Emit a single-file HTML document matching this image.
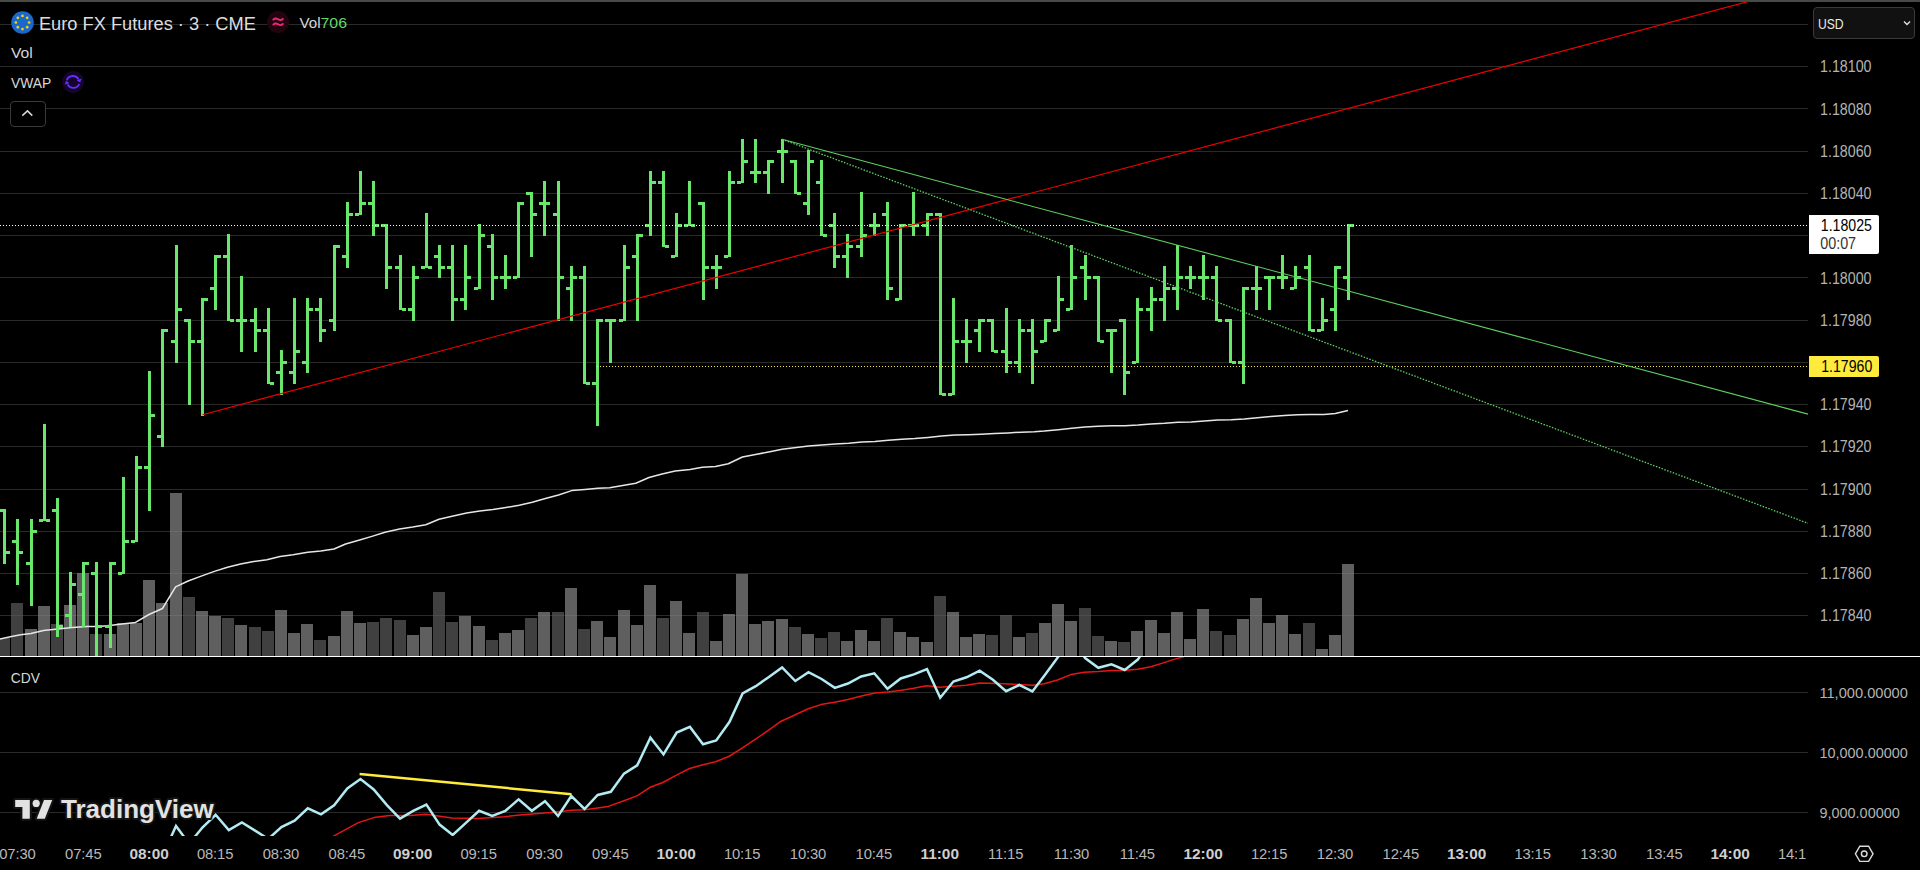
<!DOCTYPE html>
<html><head><meta charset="utf-8"><style>
html,body{margin:0;padding:0;background:#000;}
body{width:1920px;height:870px;overflow:hidden;position:relative;font-family:"Liberation Sans", sans-serif;}
svg{position:absolute;left:0;top:0;}
svg text{font-family:"Liberation Sans", sans-serif;}
.abs{position:absolute;white-space:nowrap;}
</style></head><body>
<svg width="1920" height="870" viewBox="0 0 1920 870">
<rect x="0" y="0" width="1920" height="2" fill="#484a48"/>
<rect x="0" y="24" width="1808" height="1" fill="#2a2a2a"/>
<rect x="0" y="66" width="1808" height="1" fill="#2a2a2a"/>
<rect x="0" y="108" width="1808" height="1" fill="#2a2a2a"/>
<rect x="0" y="151" width="1808" height="1" fill="#2a2a2a"/>
<rect x="0" y="193" width="1808" height="1" fill="#2a2a2a"/>
<rect x="0" y="235" width="1808" height="1" fill="#2a2a2a"/>
<rect x="0" y="277" width="1808" height="1" fill="#2a2a2a"/>
<rect x="0" y="320" width="1808" height="1" fill="#2a2a2a"/>
<rect x="0" y="362" width="1808" height="1" fill="#2a2a2a"/>
<rect x="0" y="404" width="1808" height="1" fill="#2a2a2a"/>
<rect x="0" y="446" width="1808" height="1" fill="#2a2a2a"/>
<rect x="0" y="489" width="1808" height="1" fill="#2a2a2a"/>
<rect x="0" y="531" width="1808" height="1" fill="#2a2a2a"/>
<rect x="0" y="573" width="1808" height="1" fill="#2a2a2a"/>
<rect x="0" y="615" width="1808" height="1" fill="#2a2a2a"/>
<rect x="-2" y="638" width="12" height="18" fill="rgba(95,95,95,0.67)"/>
<rect x="11" y="603" width="12" height="53" fill="rgba(95,95,95,0.67)"/>
<rect x="25" y="629" width="12" height="27" fill="rgba(135,135,135,0.70)"/>
<rect x="38" y="606" width="12" height="50" fill="rgba(135,135,135,0.70)"/>
<rect x="51" y="624" width="12" height="32" fill="rgba(95,95,95,0.67)"/>
<rect x="64" y="605" width="12" height="51" fill="rgba(135,135,135,0.70)"/>
<rect x="77" y="573" width="12" height="83" fill="rgba(135,135,135,0.70)"/>
<rect x="90" y="634" width="12" height="22" fill="rgba(95,95,95,0.67)"/>
<rect x="104" y="634" width="12" height="22" fill="rgba(135,135,135,0.70)"/>
<rect x="117" y="623" width="12" height="33" fill="rgba(135,135,135,0.70)"/>
<rect x="130" y="623" width="12" height="33" fill="rgba(135,135,135,0.70)"/>
<rect x="143" y="580" width="12" height="76" fill="rgba(135,135,135,0.70)"/>
<rect x="156" y="603" width="12" height="53" fill="rgba(135,135,135,0.70)"/>
<rect x="170" y="493" width="12" height="163" fill="rgba(135,135,135,0.70)"/>
<rect x="183" y="597" width="12" height="59" fill="rgba(95,95,95,0.67)"/>
<rect x="196" y="611" width="12" height="45" fill="rgba(135,135,135,0.70)"/>
<rect x="209" y="616" width="12" height="40" fill="rgba(135,135,135,0.70)"/>
<rect x="222" y="618" width="12" height="38" fill="rgba(95,95,95,0.67)"/>
<rect x="235" y="625" width="12" height="31" fill="rgba(135,135,135,0.70)"/>
<rect x="249" y="627" width="12" height="29" fill="rgba(95,95,95,0.67)"/>
<rect x="262" y="631" width="12" height="25" fill="rgba(95,95,95,0.67)"/>
<rect x="275" y="610" width="12" height="46" fill="rgba(135,135,135,0.70)"/>
<rect x="288" y="633" width="12" height="23" fill="rgba(135,135,135,0.70)"/>
<rect x="301" y="624" width="12" height="32" fill="rgba(135,135,135,0.70)"/>
<rect x="314" y="640" width="12" height="16" fill="rgba(95,95,95,0.67)"/>
<rect x="328" y="636" width="12" height="20" fill="rgba(135,135,135,0.70)"/>
<rect x="341" y="611" width="12" height="45" fill="rgba(135,135,135,0.70)"/>
<rect x="354" y="623" width="12" height="33" fill="rgba(135,135,135,0.70)"/>
<rect x="367" y="622" width="12" height="34" fill="rgba(95,95,95,0.67)"/>
<rect x="380" y="618" width="12" height="38" fill="rgba(95,95,95,0.67)"/>
<rect x="394" y="620" width="12" height="36" fill="rgba(95,95,95,0.67)"/>
<rect x="407" y="635" width="12" height="21" fill="rgba(135,135,135,0.70)"/>
<rect x="420" y="627" width="12" height="29" fill="rgba(135,135,135,0.70)"/>
<rect x="433" y="592" width="12" height="64" fill="rgba(95,95,95,0.67)"/>
<rect x="446" y="622" width="12" height="34" fill="rgba(95,95,95,0.67)"/>
<rect x="459" y="616" width="12" height="40" fill="rgba(135,135,135,0.70)"/>
<rect x="473" y="626" width="12" height="30" fill="rgba(135,135,135,0.70)"/>
<rect x="486" y="640" width="12" height="16" fill="rgba(95,95,95,0.67)"/>
<rect x="499" y="633" width="12" height="23" fill="rgba(135,135,135,0.70)"/>
<rect x="512" y="630" width="12" height="26" fill="rgba(135,135,135,0.70)"/>
<rect x="525" y="618" width="12" height="38" fill="rgba(95,95,95,0.67)"/>
<rect x="538" y="612" width="12" height="44" fill="rgba(135,135,135,0.70)"/>
<rect x="552" y="612" width="12" height="44" fill="rgba(95,95,95,0.67)"/>
<rect x="565" y="588" width="12" height="68" fill="rgba(135,135,135,0.70)"/>
<rect x="578" y="629" width="12" height="27" fill="rgba(95,95,95,0.67)"/>
<rect x="591" y="621" width="12" height="35" fill="rgba(135,135,135,0.70)"/>
<rect x="604" y="637" width="12" height="19" fill="rgba(135,135,135,0.70)"/>
<rect x="618" y="610" width="12" height="46" fill="rgba(135,135,135,0.70)"/>
<rect x="631" y="625" width="12" height="31" fill="rgba(135,135,135,0.70)"/>
<rect x="644" y="585" width="12" height="71" fill="rgba(135,135,135,0.70)"/>
<rect x="657" y="618" width="12" height="38" fill="rgba(95,95,95,0.67)"/>
<rect x="670" y="601" width="12" height="55" fill="rgba(135,135,135,0.70)"/>
<rect x="683" y="633" width="12" height="23" fill="rgba(135,135,135,0.70)"/>
<rect x="697" y="612" width="12" height="44" fill="rgba(95,95,95,0.67)"/>
<rect x="710" y="641" width="12" height="15" fill="rgba(135,135,135,0.70)"/>
<rect x="723" y="614" width="12" height="42" fill="rgba(135,135,135,0.70)"/>
<rect x="736" y="574" width="12" height="82" fill="rgba(135,135,135,0.70)"/>
<rect x="749" y="624" width="12" height="32" fill="rgba(135,135,135,0.70)"/>
<rect x="762" y="621" width="12" height="35" fill="rgba(135,135,135,0.70)"/>
<rect x="776" y="619" width="12" height="37" fill="rgba(135,135,135,0.70)"/>
<rect x="789" y="627" width="12" height="29" fill="rgba(95,95,95,0.67)"/>
<rect x="802" y="634" width="12" height="22" fill="rgba(135,135,135,0.70)"/>
<rect x="815" y="638" width="12" height="18" fill="rgba(95,95,95,0.67)"/>
<rect x="828" y="632" width="12" height="24" fill="rgba(95,95,95,0.67)"/>
<rect x="841" y="641" width="12" height="15" fill="rgba(135,135,135,0.70)"/>
<rect x="855" y="630" width="12" height="26" fill="rgba(135,135,135,0.70)"/>
<rect x="868" y="641" width="12" height="15" fill="rgba(135,135,135,0.70)"/>
<rect x="881" y="618" width="12" height="38" fill="rgba(95,95,95,0.67)"/>
<rect x="894" y="632" width="12" height="24" fill="rgba(135,135,135,0.70)"/>
<rect x="907" y="637" width="12" height="19" fill="rgba(135,135,135,0.70)"/>
<rect x="921" y="642" width="12" height="14" fill="rgba(135,135,135,0.70)"/>
<rect x="934" y="596" width="12" height="60" fill="rgba(95,95,95,0.67)"/>
<rect x="947" y="612" width="12" height="44" fill="rgba(135,135,135,0.70)"/>
<rect x="960" y="637" width="12" height="19" fill="rgba(135,135,135,0.70)"/>
<rect x="973" y="634" width="12" height="22" fill="rgba(135,135,135,0.70)"/>
<rect x="986" y="635" width="12" height="21" fill="rgba(95,95,95,0.67)"/>
<rect x="1000" y="615" width="12" height="41" fill="rgba(95,95,95,0.67)"/>
<rect x="1013" y="637" width="12" height="19" fill="rgba(135,135,135,0.70)"/>
<rect x="1026" y="633" width="12" height="23" fill="rgba(95,95,95,0.67)"/>
<rect x="1039" y="623" width="12" height="33" fill="rgba(135,135,135,0.70)"/>
<rect x="1052" y="604" width="12" height="52" fill="rgba(135,135,135,0.70)"/>
<rect x="1065" y="621" width="12" height="35" fill="rgba(135,135,135,0.70)"/>
<rect x="1079" y="608" width="12" height="48" fill="rgba(95,95,95,0.67)"/>
<rect x="1092" y="636" width="12" height="20" fill="rgba(95,95,95,0.67)"/>
<rect x="1105" y="641" width="12" height="15" fill="rgba(135,135,135,0.70)"/>
<rect x="1118" y="642" width="12" height="14" fill="rgba(95,95,95,0.67)"/>
<rect x="1131" y="631" width="12" height="25" fill="rgba(135,135,135,0.70)"/>
<rect x="1145" y="620" width="12" height="36" fill="rgba(135,135,135,0.70)"/>
<rect x="1158" y="633" width="12" height="23" fill="rgba(135,135,135,0.70)"/>
<rect x="1171" y="612" width="12" height="44" fill="rgba(135,135,135,0.70)"/>
<rect x="1184" y="639" width="12" height="17" fill="rgba(135,135,135,0.70)"/>
<rect x="1197" y="609" width="12" height="47" fill="rgba(135,135,135,0.70)"/>
<rect x="1210" y="631" width="12" height="25" fill="rgba(95,95,95,0.67)"/>
<rect x="1224" y="635" width="12" height="21" fill="rgba(95,95,95,0.67)"/>
<rect x="1237" y="619" width="12" height="37" fill="rgba(135,135,135,0.70)"/>
<rect x="1250" y="598" width="12" height="58" fill="rgba(135,135,135,0.70)"/>
<rect x="1263" y="623" width="12" height="33" fill="rgba(135,135,135,0.70)"/>
<rect x="1276" y="615" width="12" height="41" fill="rgba(135,135,135,0.70)"/>
<rect x="1289" y="634" width="12" height="22" fill="rgba(135,135,135,0.70)"/>
<rect x="1303" y="623" width="12" height="33" fill="rgba(95,95,95,0.67)"/>
<rect x="1316" y="649" width="12" height="7" fill="rgba(135,135,135,0.70)"/>
<rect x="1329" y="635" width="12" height="21" fill="rgba(135,135,135,0.70)"/>
<rect x="1342" y="564" width="12" height="92" fill="rgba(135,135,135,0.70)"/>
<polyline points="0.0,638.9 10.3,636.8 20.7,634.8 31.0,633.5 43.5,630.4 57.9,629.0 72.4,627.5 86.9,626.5 99.3,626.5 111.7,625.3 124.1,623.8 135.5,622.4 149.0,614.5 162.5,608.5 175.6,586.9 188.1,581.0 201.2,576.1 214.4,571.4 227.5,567.3 240.6,564.1 253.7,561.5 266.9,559.7 280.0,556.5 293.1,554.8 307.7,552.2 320.8,551.0 334.0,549.0 345.6,544.0 358.8,540.2 371.9,536.4 385.0,532.3 399.6,529.1 412.7,527.1 425.8,524.8 439.0,519.2 452.1,516.3 466.7,513.1 479.8,511.0 492.9,509.6 506.0,507.5 519.2,505.2 532.3,502.3 545.4,498.5 558.5,495.0 571.7,490.6 584.8,489.5 597.9,488.3 609.6,487.7 622.7,485.4 635.8,483.3 649.0,477.5 662.1,474.0 675.2,471.1 690.0,469.4 702.4,467.3 715.5,466.5 728.3,463.7 742.4,457.0 755.5,454.5 768.6,452.0 782.1,449.2 796.3,447.4 808.6,446.0 821.8,444.9 835.2,443.9 848.7,443.2 861.8,442.1 874.9,441.4 888.3,440.3 901.8,439.3 914.9,438.6 928.0,437.5 941.5,436.1 954.9,435.0 968.0,434.7 981.1,434.3 994.6,433.6 1008.0,432.9 1021.2,432.2 1034.3,431.8 1044.2,431.1 1058.3,429.7 1071.8,428.3 1084.9,426.9 1098.0,426.2 1111.5,425.8 1124.9,425.8 1138.0,425.1 1151.1,424.0 1164.6,423.3 1178.0,422.3 1191.2,421.9 1204.3,420.9 1217.7,420.1 1231.2,419.8 1244.3,419.1 1257.4,417.7 1270.8,416.6 1284.3,415.5 1297.4,414.8 1310.5,414.5 1324.0,414.5 1335.3,413.4 1348.0,410.6" fill="none" stroke="#e6e6e6" stroke-width="1.5" stroke-linejoin="round"/>
<path d="M3,509h3v55h-3zM-1,509h4v3h-4zM6,551h4v3h-4zM16,519h3v66h-3zM12,540h4v3h-4zM19,551h4v3h-4zM30,519h3v87h-3zM26,562h4v3h-4zM33,530h4v3h-4zM43,424h3v97h-3zM39,519h4v3h-4zM46,519h4v3h-4zM56,498h3v139h-3zM52,509h4v3h-4zM59,625h4v3h-4zM69,572h3v55h-3zM65,614h4v3h-4zM72,583h4v3h-4zM82,562h3v65h-3zM78,593h4v3h-4zM85,562h4v3h-4zM95,562h3v94h-3zM91,572h4v3h-4zM98,625h4v3h-4zM109,562h3v86h-3zM105,625h4v3h-4zM112,562h4v3h-4zM122,477h3v97h-3zM118,572h4v3h-4zM125,540h4v3h-4zM135,456h3v86h-3zM131,540h4v3h-4zM138,466h4v3h-4zM148,371h3v140h-3zM144,466h4v3h-4zM151,414h4v3h-4zM161,329h3v118h-3zM157,435h4v3h-4zM164,329h4v3h-4zM175,245h3v118h-3zM171,340h4v3h-4zM178,308h4v3h-4zM188,319h3v86h-3zM184,319h4v3h-4zM191,340h4v3h-4zM201,298h3v118h-3zM197,340h4v3h-4zM204,298h4v3h-4zM214,255h3v55h-3zM210,287h4v3h-4zM217,255h4v3h-4zM227,234h3v87h-3zM223,255h4v3h-4zM230,319h4v3h-4zM240,276h3v76h-3zM236,319h4v3h-4zM243,319h4v3h-4zM254,308h3v44h-3zM250,319h4v3h-4zM257,329h4v3h-4zM267,308h3v76h-3zM263,329h4v3h-4zM270,382h4v3h-4zM280,350h3v45h-3zM276,371h4v3h-4zM283,361h4v3h-4zM293,298h3v86h-3zM289,371h4v3h-4zM296,350h4v3h-4zM306,298h3v75h-3zM302,361h4v3h-4zM309,308h4v3h-4zM319,298h3v44h-3zM315,308h4v3h-4zM322,329h4v3h-4zM333,245h3v86h-3zM329,319h4v3h-4zM336,245h4v3h-4zM346,202h3v66h-3zM342,255h4v3h-4zM349,213h4v3h-4zM359,171h3v44h-3zM355,213h4v3h-4zM362,202h4v3h-4zM372,181h3v55h-3zM368,202h4v3h-4zM375,224h4v3h-4zM385,224h3v65h-3zM381,224h4v3h-4zM388,266h4v3h-4zM399,255h3v55h-3zM395,266h4v3h-4zM402,308h4v3h-4zM412,266h3v55h-3zM408,308h4v3h-4zM415,276h4v3h-4zM425,213h3v55h-3zM421,266h4v3h-4zM428,266h4v3h-4zM438,245h3v33h-3zM434,255h4v3h-4zM441,266h4v3h-4zM451,245h3v76h-3zM447,266h4v3h-4zM454,298h4v3h-4zM464,245h3v65h-3zM460,298h4v3h-4zM467,276h4v3h-4zM478,224h3v65h-3zM474,287h4v3h-4zM481,234h4v3h-4zM491,234h3v66h-3zM487,245h4v3h-4zM494,276h4v3h-4zM504,255h3v34h-3zM500,276h4v3h-4zM507,276h4v3h-4zM517,202h3v76h-3zM513,276h4v3h-4zM520,202h4v3h-4zM530,192h3v65h-3zM526,192h4v3h-4zM533,213h4v3h-4zM543,181h3v55h-3zM539,202h4v3h-4zM546,202h4v3h-4zM557,181h3v140h-3zM553,213h4v3h-4zM560,276h4v3h-4zM570,266h3v55h-3zM566,287h4v3h-4zM573,276h4v3h-4zM583,266h3v118h-3zM579,276h4v3h-4zM586,382h4v3h-4zM596,319h3v107h-3zM592,382h4v3h-4zM599,319h4v3h-4zM609,319h3v44h-3zM605,319h4v3h-4zM612,319h4v3h-4zM623,245h3v76h-3zM619,319h4v3h-4zM626,266h4v3h-4zM636,234h3v87h-3zM632,255h4v3h-4zM639,234h4v3h-4zM649,171h3v65h-3zM645,224h4v3h-4zM652,181h4v3h-4zM662,171h3v76h-3zM658,181h4v3h-4zM665,245h4v3h-4zM675,213h3v44h-3zM671,255h4v3h-4zM678,224h4v3h-4zM688,181h3v45h-3zM684,224h4v3h-4zM691,224h4v3h-4zM702,202h3v98h-3zM698,202h4v3h-4zM705,266h4v3h-4zM715,255h3v34h-3zM711,266h4v3h-4zM718,266h4v3h-4zM728,171h3v86h-3zM724,255h4v3h-4zM731,181h4v3h-4zM741,139h3v44h-3zM737,181h4v3h-4zM744,160h4v3h-4zM754,139h3v44h-3zM750,171h4v3h-4zM757,171h4v3h-4zM767,160h3v34h-3zM763,171h4v3h-4zM770,160h4v3h-4zM781,139h3v44h-3zM777,150h4v3h-4zM784,150h4v3h-4zM794,160h3v34h-3zM790,160h4v3h-4zM797,192h4v3h-4zM807,150h3v65h-3zM803,202h4v3h-4zM810,160h4v3h-4zM820,160h3v76h-3zM816,181h4v3h-4zM823,234h4v3h-4zM833,213h3v55h-3zM829,224h4v3h-4zM836,255h4v3h-4zM846,234h3v44h-3zM842,255h4v3h-4zM849,245h4v3h-4zM860,192h3v65h-3zM856,245h4v3h-4zM863,234h4v3h-4zM873,213h3v23h-3zM869,224h4v3h-4zM876,224h4v3h-4zM886,202h3v98h-3zM882,213h4v3h-4zM889,287h4v3h-4zM899,224h3v76h-3zM895,298h4v3h-4zM902,224h4v3h-4zM912,192h3v44h-3zM908,224h4v3h-4zM915,224h4v3h-4zM926,213h3v23h-3zM922,224h4v3h-4zM929,213h4v3h-4zM939,213h3v182h-3zM935,213h4v3h-4zM942,393h4v3h-4zM952,298h3v97h-3zM948,393h4v3h-4zM955,340h4v3h-4zM965,319h3v44h-3zM961,340h4v3h-4zM968,340h4v3h-4zM978,319h3v33h-3zM974,329h4v3h-4zM981,319h4v3h-4zM991,319h3v33h-3zM987,319h4v3h-4zM994,350h4v3h-4zM1005,308h3v65h-3zM1001,350h4v3h-4zM1008,361h4v3h-4zM1018,319h3v54h-3zM1014,361h4v3h-4zM1021,329h4v3h-4zM1031,319h3v65h-3zM1027,329h4v3h-4zM1034,350h4v3h-4zM1044,319h3v23h-3zM1040,340h4v3h-4zM1047,319h4v3h-4zM1057,276h3v55h-3zM1053,329h4v3h-4zM1060,298h4v3h-4zM1070,245h3v65h-3zM1066,308h4v3h-4zM1073,276h4v3h-4zM1084,255h3v45h-3zM1080,266h4v3h-4zM1087,276h4v3h-4zM1097,276h3v66h-3zM1093,276h4v3h-4zM1100,340h4v3h-4zM1110,329h3v44h-3zM1106,329h4v3h-4zM1113,329h4v3h-4zM1123,319h3v76h-3zM1119,319h4v3h-4zM1126,371h4v3h-4zM1136,298h3v65h-3zM1132,361h4v3h-4zM1139,308h4v3h-4zM1150,287h3v44h-3zM1146,308h4v3h-4zM1153,298h4v3h-4zM1163,266h3v55h-3zM1159,298h4v3h-4zM1166,287h4v3h-4zM1176,245h3v65h-3zM1172,287h4v3h-4zM1179,276h4v3h-4zM1189,266h3v23h-3zM1185,276h4v3h-4zM1192,276h4v3h-4zM1202,255h3v45h-3zM1198,276h4v3h-4zM1205,276h4v3h-4zM1215,266h3v55h-3zM1211,276h4v3h-4zM1218,319h4v3h-4zM1229,319h3v44h-3zM1225,319h4v3h-4zM1232,361h4v3h-4zM1242,287h3v97h-3zM1238,361h4v3h-4zM1245,287h4v3h-4zM1255,266h3v44h-3zM1251,287h4v3h-4zM1258,287h4v3h-4zM1268,276h3v34h-3zM1264,276h4v3h-4zM1271,276h4v3h-4zM1281,255h3v34h-3zM1277,276h4v3h-4zM1284,276h4v3h-4zM1294,266h3v23h-3zM1290,287h4v3h-4zM1297,276h4v3h-4zM1308,255h3v76h-3zM1304,266h4v3h-4zM1311,329h4v3h-4zM1321,298h3v33h-3zM1317,329h4v3h-4zM1324,319h4v3h-4zM1334,266h3v65h-3zM1330,308h4v3h-4zM1337,266h4v3h-4zM1347,224h3v76h-3zM1343,276h4v3h-4zM1350,224h4v3h-4z" fill="#69e66b"/>
<line x1="0" y1="225.5" x2="1808" y2="225.5" stroke="#ffffff" stroke-width="1" stroke-dasharray="1,2"/>
<line x1="597" y1="366.5" x2="1808" y2="366.5" stroke="#ffeb3b" stroke-width="1" stroke-dasharray="1,2"/>
<defs><clipPath id="cp"><rect x="0" y="2" width="1808" height="654"/></clipPath><clipPath id="cdvclip"><rect x="0" y="657" width="1808" height="179"/></clipPath></defs>
<g clip-path="url(#cp)">
<line x1="202.6" y1="414.7" x2="1808" y2="-14.5" stroke="#f00000" stroke-width="1.15"/>
<line x1="782.1" y1="139.3" x2="1808" y2="414.1" stroke="#5fd062" stroke-width="1.1"/>
<line x1="782.1" y1="139.3" x2="1808" y2="523.3" stroke="#5fd062" stroke-width="1.3" stroke-dasharray="1.5,1.5"/>
</g>
<rect x="0" y="656" width="1920" height="1" fill="#ffffff"/>
<rect x="0" y="692" width="1808" height="1" fill="#2a2a2a"/>
<rect x="0" y="752" width="1808" height="1" fill="#2a2a2a"/>
<rect x="0" y="812" width="1808" height="1" fill="#2a2a2a"/>
<g clip-path="url(#cdvclip)">
<line x1="359.6" y1="774" x2="571.4" y2="794.2" stroke="#ffeb3b" stroke-width="2.5"/>
<polyline points="320.0,845.0 334.0,835.8 358.3,822.6 374.0,817.6 389.6,815.5 410.4,815.5 426.0,814.2 452.0,818.1 478.0,818.6 504.2,816.8 519.8,815.0 551.0,812.4 571.9,810.3 584.9,809.8 608.3,806.4 626.0,800.0 637.5,795.6 650.0,787.3 662.9,782.5 676.0,775.4 689.6,768.5 702.0,765.0 715.6,761.7 728.8,756.5 741.7,748.3 755.2,739.4 768.3,730.4 781.2,721.2 794.8,715.0 808.3,708.8 820.8,704.6 834.4,702.3 847.9,699.4 861.5,696.0 875.0,693.1 887.5,692.1 900.0,690.4 913.5,688.3 926.7,685.8 940.0,687.3 952.5,686.2 966.2,685.2 980.0,683.0 1005.0,683.8 1032.5,685.2 1044.2,683.8 1057.5,680.0 1070.8,674.6 1084.2,672.3 1098.3,671.5 1111.2,670.4 1123.3,670.4 1137.5,669.2 1150.8,666.7 1163.3,662.9 1173.3,659.6 1183.3,656.7 1195.0,652.0" fill="none" stroke="#e51515" stroke-width="1.5" stroke-linejoin="round"/>
<polyline points="162.9,855.0 176.0,826.0 189.2,843.8 202.4,827.5 215.6,814.8 228.8,830.1 241.9,822.5 255.1,830.6 268.3,839.0 281.4,827.0 294.6,820.7 307.8,808.3 321.0,814.3 334.1,805.3 347.3,788.5 360.5,779.1 373.7,789.5 386.9,805.1 400.0,818.6 413.2,810.8 426.4,804.6 439.6,824.6 452.7,835.0 465.9,822.8 479.1,810.8 492.2,816.0 505.4,810.8 518.6,799.4 531.8,810.8 545.0,801.2 558.1,816.0 571.3,796.0 584.5,809.0 597.7,795.0 610.8,791.8 624.0,773.6 637.2,765.4 650.4,737.7 663.5,754.4 676.7,732.5 689.9,726.9 703.0,744.2 716.2,740.4 729.4,722.1 742.6,693.5 755.8,686.2 768.9,676.9 782.1,667.5 795.3,681.0 808.5,672.1 821.6,679.0 834.8,687.9 848.0,683.5 861.2,676.5 874.3,673.3 887.5,688.8 900.7,678.5 913.9,674.4 927.0,669.2 940.2,697.7 953.4,681.5 966.5,677.3 979.7,670.6 992.9,679.7 1006.1,691.2 1019.2,685.0 1032.4,691.4 1045.6,674.0 1058.8,656.0 1072.0,640.0 1085.1,658.0 1098.3,667.8 1111.5,664.3 1124.7,670.0 1137.8,659.6 1151.0,640.0 1164.2,630.0" fill="none" stroke="#b2ebf2" stroke-width="2.5" stroke-linejoin="miter"/>
</g>
<text x="1820" y="72.3" font-size="15.6" fill="#b3b3b3" font-weight="normal" text-anchor="start" textLength="51.5" lengthAdjust="spacingAndGlyphs">1.18100</text>
<text x="1820" y="114.53999999999999" font-size="15.6" fill="#b3b3b3" font-weight="normal" text-anchor="start" textLength="51.5" lengthAdjust="spacingAndGlyphs">1.18080</text>
<text x="1820" y="156.78" font-size="15.6" fill="#b3b3b3" font-weight="normal" text-anchor="start" textLength="51.5" lengthAdjust="spacingAndGlyphs">1.18060</text>
<text x="1820" y="199.02" font-size="15.6" fill="#b3b3b3" font-weight="normal" text-anchor="start" textLength="51.5" lengthAdjust="spacingAndGlyphs">1.18040</text>
<text x="1820" y="283.50000000000006" font-size="15.6" fill="#b3b3b3" font-weight="normal" text-anchor="start" textLength="51.5" lengthAdjust="spacingAndGlyphs">1.18000</text>
<text x="1820" y="325.74" font-size="15.6" fill="#b3b3b3" font-weight="normal" text-anchor="start" textLength="51.5" lengthAdjust="spacingAndGlyphs">1.17980</text>
<text x="1820" y="410.22" font-size="15.6" fill="#b3b3b3" font-weight="normal" text-anchor="start" textLength="51.5" lengthAdjust="spacingAndGlyphs">1.17940</text>
<text x="1820" y="452.46000000000004" font-size="15.6" fill="#b3b3b3" font-weight="normal" text-anchor="start" textLength="51.5" lengthAdjust="spacingAndGlyphs">1.17920</text>
<text x="1820" y="494.70000000000005" font-size="15.6" fill="#b3b3b3" font-weight="normal" text-anchor="start" textLength="51.5" lengthAdjust="spacingAndGlyphs">1.17900</text>
<text x="1820" y="536.94" font-size="15.6" fill="#b3b3b3" font-weight="normal" text-anchor="start" textLength="51.5" lengthAdjust="spacingAndGlyphs">1.17880</text>
<text x="1820" y="579.1800000000001" font-size="15.6" fill="#b3b3b3" font-weight="normal" text-anchor="start" textLength="51.5" lengthAdjust="spacingAndGlyphs">1.17860</text>
<text x="1820" y="621.4200000000001" font-size="15.6" fill="#b3b3b3" font-weight="normal" text-anchor="start" textLength="51.5" lengthAdjust="spacingAndGlyphs">1.17840</text>
<path d="M1809,215H1877a2,2 0 0 1 2,2V252a2,2 0 0 1 -2,2H1809Z" fill="#ffffff"/>
<text x="1820.8" y="231.2" font-size="15.6" fill="#000000" font-weight="normal" text-anchor="start" textLength="51.2" lengthAdjust="spacingAndGlyphs">1.18025</text>
<text x="1820.2" y="248.6" font-size="15.6" fill="#333333" font-weight="normal" text-anchor="start" textLength="35.9" lengthAdjust="spacingAndGlyphs">00:07</text>
<path d="M1809,356H1877a2,2 0 0 1 2,2V375a2,2 0 0 1 -2,2H1809Z" fill="#ffeb3b"/>
<text x="1821.2" y="372" font-size="15.6" fill="#000000" font-weight="normal" text-anchor="start" textLength="51.1" lengthAdjust="spacingAndGlyphs">1.17960</text>
<text x="1819.4" y="697.5" font-size="15.4" fill="#b3b3b3" font-weight="normal" text-anchor="start" textLength="88.5" lengthAdjust="spacingAndGlyphs">11,000.00000</text>
<text x="1819.4" y="757.5" font-size="15.4" fill="#b3b3b3" font-weight="normal" text-anchor="start" textLength="88.5" lengthAdjust="spacingAndGlyphs">10,000.00000</text>
<text x="1819.4" y="817.5" font-size="15.4" fill="#b3b3b3" font-weight="normal" text-anchor="start" textLength="80.4" lengthAdjust="spacingAndGlyphs">9,000.00000</text>
<defs><clipPath id="tclip"><rect x="0" y="836" width="1806.5" height="34"/></clipPath></defs><g clip-path="url(#tclip)">
<text x="17.4" y="859.3" font-size="14.8" fill="#b8b8b8" font-weight="normal" text-anchor="middle" letter-spacing="-0.12">07:30</text>
<text x="83.3" y="859.3" font-size="14.8" fill="#b8b8b8" font-weight="normal" text-anchor="middle" letter-spacing="-0.12">07:45</text>
<text x="149.2" y="859.3" font-size="15.4" fill="#cfcfcf" font-weight="bold" text-anchor="middle" letter-spacing="0">08:00</text>
<text x="215.1" y="859.3" font-size="14.8" fill="#b8b8b8" font-weight="normal" text-anchor="middle" letter-spacing="-0.12">08:15</text>
<text x="280.9" y="859.3" font-size="14.8" fill="#b8b8b8" font-weight="normal" text-anchor="middle" letter-spacing="-0.12">08:30</text>
<text x="346.8" y="859.3" font-size="14.8" fill="#b8b8b8" font-weight="normal" text-anchor="middle" letter-spacing="-0.12">08:45</text>
<text x="412.7" y="859.3" font-size="15.4" fill="#cfcfcf" font-weight="bold" text-anchor="middle" letter-spacing="0">09:00</text>
<text x="478.6" y="859.3" font-size="14.8" fill="#b8b8b8" font-weight="normal" text-anchor="middle" letter-spacing="-0.12">09:15</text>
<text x="544.5" y="859.3" font-size="14.8" fill="#b8b8b8" font-weight="normal" text-anchor="middle" letter-spacing="-0.12">09:30</text>
<text x="610.3" y="859.3" font-size="14.8" fill="#b8b8b8" font-weight="normal" text-anchor="middle" letter-spacing="-0.12">09:45</text>
<text x="676.2" y="859.3" font-size="15.4" fill="#cfcfcf" font-weight="bold" text-anchor="middle" letter-spacing="0">10:00</text>
<text x="742.1" y="859.3" font-size="14.8" fill="#b8b8b8" font-weight="normal" text-anchor="middle" letter-spacing="-0.12">10:15</text>
<text x="808.0" y="859.3" font-size="14.8" fill="#b8b8b8" font-weight="normal" text-anchor="middle" letter-spacing="-0.12">10:30</text>
<text x="873.8" y="859.3" font-size="14.8" fill="#b8b8b8" font-weight="normal" text-anchor="middle" letter-spacing="-0.12">10:45</text>
<text x="939.7" y="859.3" font-size="15.4" fill="#cfcfcf" font-weight="bold" text-anchor="middle" letter-spacing="0">11:00</text>
<text x="1005.6" y="859.3" font-size="14.8" fill="#b8b8b8" font-weight="normal" text-anchor="middle" letter-spacing="-0.12">11:15</text>
<text x="1071.5" y="859.3" font-size="14.8" fill="#b8b8b8" font-weight="normal" text-anchor="middle" letter-spacing="-0.12">11:30</text>
<text x="1137.3" y="859.3" font-size="14.8" fill="#b8b8b8" font-weight="normal" text-anchor="middle" letter-spacing="-0.12">11:45</text>
<text x="1203.2" y="859.3" font-size="15.4" fill="#cfcfcf" font-weight="bold" text-anchor="middle" letter-spacing="0">12:00</text>
<text x="1269.1" y="859.3" font-size="14.8" fill="#b8b8b8" font-weight="normal" text-anchor="middle" letter-spacing="-0.12">12:15</text>
<text x="1335.0" y="859.3" font-size="14.8" fill="#b8b8b8" font-weight="normal" text-anchor="middle" letter-spacing="-0.12">12:30</text>
<text x="1400.8" y="859.3" font-size="14.8" fill="#b8b8b8" font-weight="normal" text-anchor="middle" letter-spacing="-0.12">12:45</text>
<text x="1466.7" y="859.3" font-size="15.4" fill="#cfcfcf" font-weight="bold" text-anchor="middle" letter-spacing="0">13:00</text>
<text x="1532.6" y="859.3" font-size="14.8" fill="#b8b8b8" font-weight="normal" text-anchor="middle" letter-spacing="-0.12">13:15</text>
<text x="1598.5" y="859.3" font-size="14.8" fill="#b8b8b8" font-weight="normal" text-anchor="middle" letter-spacing="-0.12">13:30</text>
<text x="1664.3" y="859.3" font-size="14.8" fill="#b8b8b8" font-weight="normal" text-anchor="middle" letter-spacing="-0.12">13:45</text>
<text x="1730.2" y="859.3" font-size="15.4" fill="#cfcfcf" font-weight="bold" text-anchor="middle" letter-spacing="0">14:00</text>
<text x="1796.1" y="859.3" font-size="14.8" fill="#b8b8b8" font-weight="normal" text-anchor="middle" letter-spacing="-0.12">14:15</text>
</g>
<polygon points="1873.00,853.80 1868.60,861.42 1859.80,861.42 1855.40,853.80 1859.80,846.18 1868.60,846.18" fill="none" stroke="#dadada" stroke-width="1.4"/>
<circle cx="1864.2" cy="853.8" r="2.8" fill="none" stroke="#dadada" stroke-width="1.4"/>
</svg>
<!-- legend -->
<svg class="abs" style="left:11px;top:10.5px" width="23" height="23" viewBox="0 0 23 23">
<circle cx="11.5" cy="11.5" r="11.3" fill="#1b68cc"/>
<circle cx="11.50" cy="4.90" r="1.35" fill="#f5d20a"/><circle cx="16.17" cy="6.83" r="1.35" fill="#f5d20a"/><circle cx="18.10" cy="11.50" r="1.35" fill="#f5d20a"/><circle cx="16.17" cy="16.17" r="1.35" fill="#f5d20a"/><circle cx="11.50" cy="18.10" r="1.35" fill="#f5d20a"/><circle cx="6.83" cy="16.17" r="1.35" fill="#f5d20a"/><circle cx="4.90" cy="11.50" r="1.35" fill="#f5d20a"/><circle cx="6.83" cy="6.83" r="1.35" fill="#f5d20a"/>
</svg>

<svg class="abs" style="left:267px;top:11px" width="22" height="22" viewBox="0 0 22 22">
<circle cx="11" cy="11" r="11" fill="#22040f"/>
<path d="M6.3 8.6c1.5-1.5 3-1.5 4.8-0.3s3.2 1.2 4.7-0.3M6.3 13.6c1.5-1.5 3-1.5 4.8-0.3s3.2 1.2 4.7-0.3" fill="none" stroke="#f0287a" stroke-width="1.9" stroke-linecap="round"/>
</svg>



<svg class="abs" style="left:62px;top:71px" width="22" height="22" viewBox="0 0 22 22">
<circle cx="11" cy="11" r="10.9" fill="#12062c"/>
<path d="M4.8 9.2A6.4 6.4 0 0 1 16.6 8.6" fill="none" stroke="#6b2cf5" stroke-width="1.9"/>
<path d="M17.2 13A6.4 6.4 0 0 1 5.6 13.4" fill="none" stroke="#6b2cf5" stroke-width="1.9"/>
<path d="M14.6 9.6L19.6 7.6L18.2 11.6Z" fill="#6b2cf5"/>
<path d="M7.6 12.2L2.6 13.6L4.2 9.8Z" fill="#6b2cf5"/>
</svg>
<div class="abs" style="left:10px;top:101px;width:36px;height:26px;border:1px solid #3a3a3a;border-radius:4px;box-sizing:border-box;background:#000;"></div>
<svg class="abs" style="left:10px;top:101px" width="36" height="26" viewBox="0 0 36 26">
<path d="M12.3 14.6L17.5 9.9L22.3 14.6" fill="none" stroke="#d8d8d8" stroke-width="1.5"/>
</svg>

<!-- USD dropdown -->
<div class="abs" style="left:1813px;top:7px;width:102px;height:32px;border:1px solid #3a3a3a;border-radius:4px;background:#111;box-sizing:border-box;"></div>

<svg class="abs" style="left:1900.5px;top:17px" width="12" height="12" viewBox="0 0 12 12"><path d="M3 4.5l3 3 3-3" fill="none" stroke="#e0e0e0" stroke-width="1.4"/></svg>
<svg class="abs" style="left:0;top:0" width="1920" height="870" viewBox="0 0 1920 870">
<g style="font-family:'Liberation Sans',sans-serif" lengthAdjust="spacingAndGlyphs">
<text x="38.9" y="30" font-size="18.9" fill="#dddddd" textLength="217" lengthAdjust="spacingAndGlyphs">Euro FX Futures · 3 · CME</text>
<text x="299.5" y="28.2" font-size="15.4" fill="#d8d8d8" textLength="21" lengthAdjust="spacingAndGlyphs">Vol</text>
<text x="320.5" y="28.2" font-size="15.4" fill="#62d964" textLength="26.5" lengthAdjust="spacingAndGlyphs">706</text>
<text x="11" y="57.7" font-size="15" fill="#d8d8d8" textLength="21.8" lengthAdjust="spacingAndGlyphs">Vol</text>
<text x="11" y="87.7" font-size="14.6" fill="#d8d8d8" textLength="40.1" lengthAdjust="spacingAndGlyphs">VWAP</text>
<text x="10.8" y="683" font-size="15" fill="#d8d8d8" textLength="29.2" lengthAdjust="spacingAndGlyphs">CDV</text>
<text x="1817.9" y="28.7" font-size="14.7" fill="#eaeaea" textLength="25.7" lengthAdjust="spacingAndGlyphs">USD</text>
</g></svg>
<!-- TradingView logo -->
<svg class="abs" style="left:0px;top:790px" width="240" height="40" viewBox="0 790 240 40">
<g fill="#e2e2e2" stroke="#141414" stroke-width="4" stroke-linejoin="round" paint-order="stroke">
<path d="M15.2,800H29.8V818.8H22.4V806.9H15.2Z"/>
<circle cx="36.2" cy="803.4" r="3.6"/>
<path d="M44,800H52.2L44.8,818.8H36.7Z"/>
<text x="61" y="818.4" font-size="26" font-weight="bold" style="font-family:'Liberation Sans',sans-serif">TradingView</text>
</g></svg>
</body></html>
